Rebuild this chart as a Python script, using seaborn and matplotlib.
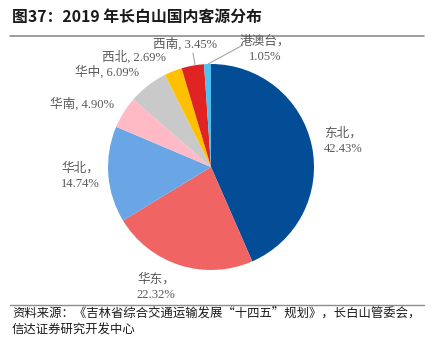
import matplotlib
matplotlib.use("Agg")
import matplotlib.pyplot as plt
import seaborn as sns
import numpy as np

# ---- data ----
regions = ["东北", "华东", "华北", "华南", "华中", "西北", "西南", "港澳台"]
shares = [42.43, 22.32, 14.74, 4.90, 6.09, 2.69, 3.45, 1.05]
colors = ["#034C96", "#F06464", "#6AA6E6", "#FFBAC6", "#C9C9C9", "#FFC000", "#E02424", "#4EC3F2"]

title = "图37：2019 年长白山国内客源分布"
source_1 = "资料来源：《吉林省综合交通运输发展“十四五”规划》，长白山管委会，"
source_2 = "信达证券研究开发中心"

sns.set_theme(style="white")
plt.rcParams["font.family"] = ["Noto Sans CJK SC", "DejaVu Sans"]

W, H = 436, 337
fig = plt.figure(figsize=(W / 100, H / 100), dpi=100)

# pie axes: center (211,167) px, radius 103 px
cx, cy, r = 211, 167, 103
ax = fig.add_axes([(cx - r) / W, (H - cy - r) / H, 2 * r / W, 2 * r / H])
wedges, _ = ax.pie(shares, colors=colors, startangle=90, counterclock=False,
                   wedgeprops=dict(linewidth=0))
ax.set_xlim(-1, 1)
ax.set_ylim(-1, 1)
ax.set_aspect("equal")
ax.axis("off")

lab_font = ["Liberation Serif", "Noto Sans CJK SC"]
lab_color = "#595959"

def px(x, y):
    return x / W, 1 - y / H

# label layout (pixel positions of label centers)
label_pos = {
    "东北": (343, 141, True),
    "华东": (156, 287, True),
    "华北": (80, 176, True),
    "华南": (82, 104, False),
    "华中": (107, 72, False),
    "西北": (134, 57, False),
    "西南": (185, 44, False),
    "港澳台": (265, 49, True),
}
for name, val in zip(regions, shares):
    x, y, two = label_pos[name]
    txt = f"{name}，\n{val:.2f}%" if two else f"{name}, {val:.2f}%"
    fig.text(*px(x, y), txt, ha="center", va="center", fontsize=9.1,
             family=lab_font, color=lab_color, linespacing=1.3)

# leader lines
for (x0, y0, x1, y1) in [(193, 53, 195, 65), (243, 45, 208, 64)]:
    fig.add_artist(plt.Line2D([x0 / W, x1 / W], [1 - y0 / H, 1 - y1 / H],
                              color="#A6A6A6", lw=0.8))

# title and rules
fig.text(*px(12, 17), title, ha="left", va="center", fontsize=11.4,
         fontweight="bold", color="#1a1a1a")
fig.add_artist(plt.Line2D([10 / W, 424 / W], [1 - 36 / H, 1 - 36 / H],
                          color="#8C8C8C", lw=1.2))
fig.add_artist(plt.Line2D([10 / W, 424 / W], [1 - 304.5 / H, 1 - 304.5 / H],
                          color="#8C8C8C", lw=1.0))
fig.text(*px(12, 314), source_1, ha="left", va="center", fontsize=8.9, color="#1a1a1a")
fig.text(*px(12, 330), source_2, ha="left", va="center", fontsize=8.9, color="#1a1a1a")

fig.savefig("out.png", dpi=100)
